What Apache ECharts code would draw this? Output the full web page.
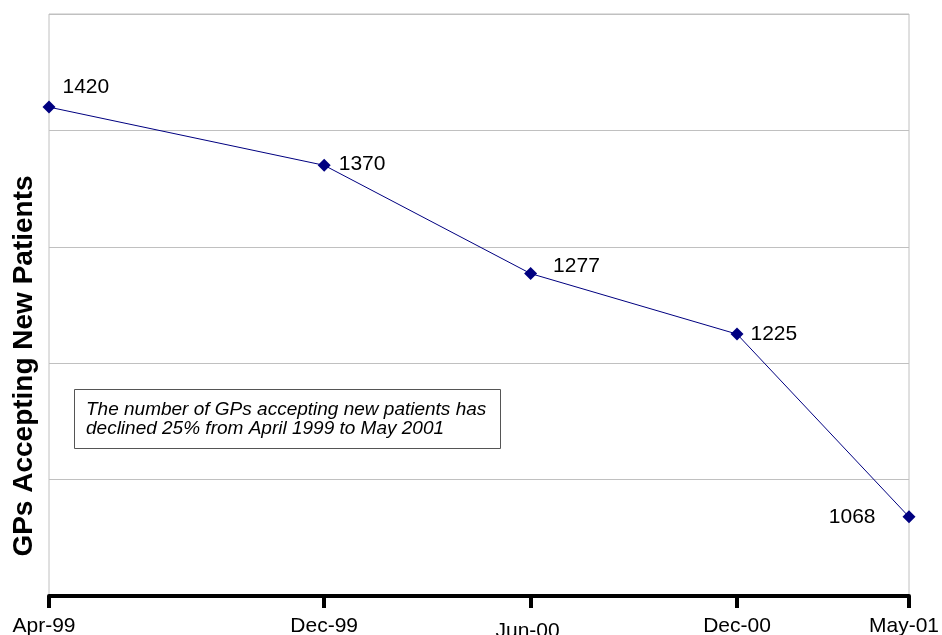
<!DOCTYPE html>
<html>
<head>
<meta charset="utf-8">
<script src="https://cdn.jsdelivr.net/npm/echarts@6/dist/echarts.min.js"></script>
<style>
  html, body { margin: 0; padding: 0; background: #ffffff; }
  #chart { width: 942px; height: 635px; }
</style>
</head>
<body>
<div id="chart"></div>
<script>
// Survey periods (year-month), their axis labels and GP counts
const periods = ['1999-04', '1999-12', '2000-06', '2000-12', '2001-05'];
const tickLabels = ['Apr-99', 'Dec-99', 'Jun-00', 'Dec-00', 'May-01'];
const gpCounts = [1420, 1370, 1277, 1225, 1068];

// Where each value label sits relative to its marker
const labelPlacement = [
  { position: [20, -13], align: 'left' },
  { position: [21, 5], align: 'left' },
  { position: [29, -1], align: 'left' },
  { position: [20, 7], align: 'left' },
  { position: [-27, 7], align: 'right' }
];

// Rich-text style per tick label (Jun-00 sits a little lower)
const tickStyle = ['edge', 'std', 'low', 'std', 'edge'];

const FONT = '"Liberation Sans", Arial, Helvetica, sans-serif';

// Months elapsed since the first survey period
function monthIndex(p) {
  const [y, m] = p.split('-').map(Number);
  const [y0, m0] = periods[0].split('-').map(Number);
  return (y - y0) * 12 + (m - m0);
}
const xs = periods.map(monthIndex);

const seriesData = gpCounts.map((v, i) => ({
  value: [xs[i], v],
  label: {
    position: labelPlacement[i].position,
    align: labelPlacement[i].align,
    verticalAlign: 'middle'
  }
}));

const chart = echarts.init(document.getElementById('chart'), null, { renderer: 'canvas' });

const tickText = { fontFamily: FONT, fontSize: 21, color: '#000000' };

chart.setOption({
  animation: false,
  backgroundColor: '#ffffff',
  grid: {
    left: 49, right: 33, top: 14, bottom: 39,
    outerBoundsMode: 'none',
    containLabel: false,
    show: true,
    borderColor: '#c0c0c0',
    borderWidth: 1,
    backgroundColor: 'transparent'
  },
  xAxis: {
    type: 'value',
    min: xs[0],
    max: xs[xs.length - 1],
    splitLine: { show: false },
    axisLine: { show: true, onZero: false, lineStyle: { color: '#000000', width: 4 } },
    axisTick: {
      show: true,
      customValues: xs,
      length: 12,
      lineStyle: { color: '#000000', width: 4 }
    },
    axisLabel: {
      customValues: xs,
      margin: 20,
      color: '#000000',
      fontFamily: FONT,
      fontSize: 21,
      formatter: function (val) {
        const i = xs.indexOf(val);
        if (i < 0) return '';
        return '{' + tickStyle[i] + '|' + tickLabels[i] + '}';
      },
      rich: {
        std: Object.assign({}, tickText),
        edge: Object.assign({ padding: [0, 10, 0, 0] }, tickText),
        low: Object.assign({ padding: [5, 6, 0, 0] }, tickText)
      }
    }
  },
  yAxis: {
    type: 'value',
    min: 1000,
    max: 1500,
    interval: 100,
    axisLine: { show: false },
    axisTick: { show: false },
    axisLabel: { show: false },
    splitLine: { show: true, lineStyle: { color: '#c0c0c0', width: 1 } }
  },
  series: [{
    type: 'line',
    data: seriesData,
    symbol: 'diamond',
    symbolSize: 13,
    lineStyle: { color: '#000080', width: 1 },
    itemStyle: { color: '#000080' },
    label: {
      show: true,
      color: '#000000',
      fontFamily: FONT,
      fontSize: 21,
      formatter: p => String(p.value[1])
    },
    z: 5
  }],
  graphic: [
    {
      type: 'text',
      x: 24,
      y: 366,
      rotation: Math.PI / 2,
      style: {
        text: 'GPs Accepting New Patients',
        fontFamily: FONT,
        fontWeight: 'bold',
        fontSize: 28,
        fill: '#000000',
        align: 'center',
        verticalAlign: 'middle'
      }
    },
    {
      type: 'rect',
      shape: { x: 74.5, y: 389.5, width: 426, height: 59 },
      style: { fill: '#ffffff', stroke: '#555555', lineWidth: 1 },
      z: 10
    },
    {
      type: 'text',
      x: 86,
      y: 419,
      z: 11,
      style: {
        text: 'The number of GPs accepting new patients has\ndeclined 25% from April 1999 to May 2001',
        fontFamily: FONT,
        fontStyle: 'italic',
        fontSize: 19,
        lineHeight: 19,
        fill: '#000000',
        align: 'left',
        verticalAlign: 'middle'
      }
    }
  ]
});
</script>
</body>
</html>
